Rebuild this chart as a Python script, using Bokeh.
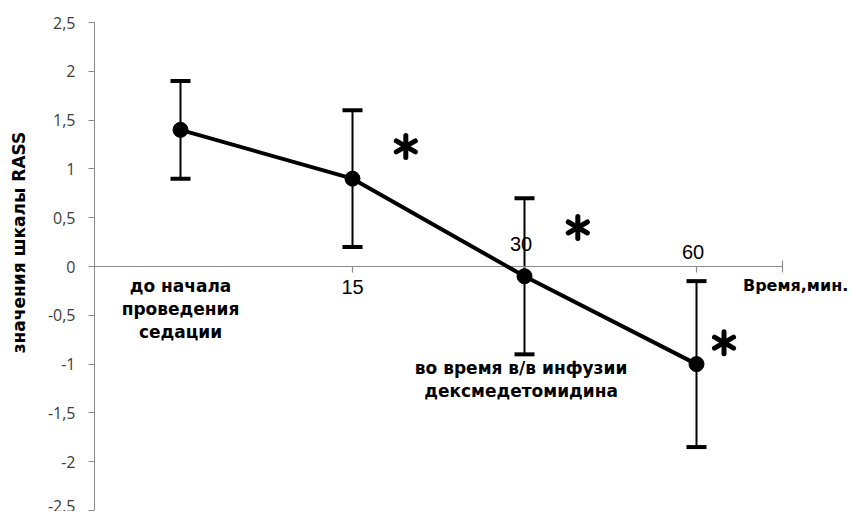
import math
from bokeh.plotting import figure
from bokeh.models import (LinearAxis, FixedTicker, Range1d, Whisker, TeeHead,
                          ColumnDataSource, Label)
from bokeh.core.properties import value
from bokeh.embed import file_html
from bokeh.resources import INLINE

# ---------------- data ----------------
categories = ["до начала\nпроведения\nседации", "15", "30", "60"]
rass_mean = [1.4, 0.9, -0.1, -1.0]
rass_err = [0.5, 0.7, 0.8, 0.85]
y_ticks = [-2.5, -2.0, -1.5, -1.0, -0.5, 0.0, 0.5, 1.0, 1.5, 2.0, 2.5]
infusion_label = "во время в/в инфузии\nдексмедетомидина"
x_axis_title = "Время,мин."
y_axis_title = "значения шкалы RASS"
star_x = [1.81, 2.81, 3.66]
star_y = [1.23, 0.40, -0.78]

# ---------------- geometry ----------------
W, H = 854, 511
LEFT = 94          # pixel position of the value axis
px_x = 172.0
px_y = 97.6
top_pad = 22
x_start = -LEFT / px_x
x_end = (W - LEFT) / px_x
y_top = 2.5 + top_pad / px_y
y_bot = y_top - H / px_y

xs = [i + 0.5 for i in range(len(categories))]
lower = [m - e for m, e in zip(rass_mean, rass_err)]
upper = [m + e for m, e in zip(rass_mean, rass_err)]

p = figure(width=W, height=H, output_backend="svg", toolbar_location=None,
           x_range=Range1d(x_start, x_end), y_range=Range1d(y_bot, y_top),
           x_axis_type=None, y_axis_type=None,
           min_border_left=0, min_border_right=0,
           min_border_top=0, min_border_bottom=0)
p.outline_line_color = None
p.grid.visible = False
p.background_fill_color = "white"

# ---- y axis (fixed at x = 0) ----
yax = LinearAxis(fixed_location=0, bounds=(-2.5, 2.5), ticker=FixedTicker(ticks=y_ticks))
yax.major_label_overrides = {t: (f"{t:g}").replace(".", ",") for t in y_ticks}
yax.axis_line_color = "#8c8c8c"
yax.major_tick_line_color = "#8c8c8c"
yax.minor_tick_line_color = None
yax.major_tick_out = 6
yax.major_tick_in = 0
yax.major_label_standoff = 13
yax.major_label_text_font = "Open Sans"
yax.major_label_text_font_size = "16px"
yax.major_label_text_color = "#3c3c3c"
p.add_layout(yax, "left")

# ---- category axis drawn at y = 0 ----
cat_axis_end = float(len(categories))
p.segment(x0=[0], y0=[0], x1=[cat_axis_end], y1=[0], line_color="#8c8c8c", line_width=1.2)
tick_len = 6 / px_y
p.segment(x0=xs[1:], y0=[0] * 3, x1=xs[1:], y1=[-tick_len] * 3,
          line_color="#8c8c8c", line_width=1.2)
p.segment(x0=[cat_axis_end], y0=[tick_len], x1=[cat_axis_end], y1=[-tick_len],
          line_color="#8c8c8c", line_width=1.2)

# ---- error bars ----
src = ColumnDataSource(dict(x=xs, y=rass_mean, lo=lower, hi=upper))
wh = Whisker(base="x", lower="lo", upper="hi", source=src,
             line_color="black", line_width=2,
             upper_head=TeeHead(size=20, line_width=4, line_color="black"),
             lower_head=TeeHead(size=20, line_width=4, line_color="black"))
p.add_layout(wh)

# ---- line + markers ----
p.line("x", "y", source=src, line_color="black", line_width=4)
p.scatter("x", "y", source=src, size=15, fill_color="black", line_color="black")

# ---- asterisks (three strokes each) ----
for ang in (math.pi / 2, math.pi / 6, -math.pi / 6):
    p.scatter(star_x, star_y, marker="dash", size=22, angle=ang,
              line_color="black", line_width=5, line_cap="round")

# ---- category labels ----
bold = value("DejaVu Sans")
p.text(x=[xs[0]], y=[0], text=[categories[0]], y_offset=[42],
       text_font=bold, text_font_style="bold", text_font_size="17px",
       text_align="center", text_baseline="middle", text_line_height=1.15,
       text_color="black")
p.text(x=[xs[1]], y=[0], text=[categories[1]], y_offset=[20],
       text_font=value("Liberation Sans"), text_font_size="20px",
       text_align="center", text_baseline="middle", text_color="black")
p.text(x=[xs[2] - 0.02, xs[3] - 0.02], y=[0, 0], text=categories[2:], y_offset=[-23, -15],
       text_font=value("Liberation Sans"), text_font_size="20px",
       text_align="center", text_baseline="middle", text_color="black")
p.text(x=[xs[2] - 0.02], y=[0], text=[infusion_label], y_offset=[113],
       text_font=bold, text_font_style="bold", text_font_size="17px",
       text_align="center", text_baseline="middle", text_line_height=1.15,
       text_color="black")
p.text(x=[3.77], y=[0], text=[x_axis_title], y_offset=[19],
       text_font=bold, text_font_style="bold", text_font_size="16px",
       text_align="left", text_baseline="middle", text_color="black")

# ---- y axis title ----
p.add_layout(Label(x=18, y=H - 242, x_units="screen", y_units="screen",
                   text=y_axis_title, angle=math.pi / 2,
                   text_font="DejaVu Sans", text_font_style="bold",
                   text_font_size="17px", text_align="center",
                   text_baseline="middle", text_color="black"))

open("out.html", "w").write(file_html(p, INLINE))
